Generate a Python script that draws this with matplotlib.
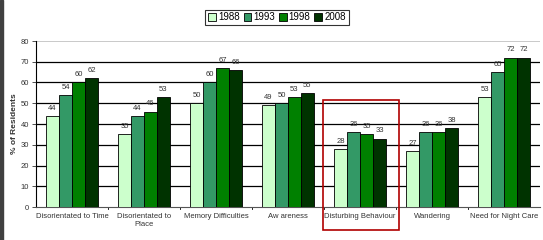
import numpy as np
from matplotlib import pyplot as plt
from matplotlib.patches import Rectangle

categories = ["Disorientated to Time", "Disorientated to\nPlace", "Memory Difficulties",
              "Aw areness", "Disturbing Behaviour", "Wandering", "Need for Night Care"]
years = ["1988", "1993", "1998", "2008"]
v1988 = [44, 35, 50, 49, 28, 27, 53]
v1993 = [54, 44, 60, 50, 36, 36, 65]
v1998 = [60, 46, 67, 53, 35, 36, 72]
v2008 = [62, 53, 66, 55, 33, 38, 72]
colors = ["#ccffcc", "#339966", "#008000", "#003300"]

plt.rcParams["font.family"] = ["Liberation Sans", "DejaVu Sans"]

fig = plt.figure(figsize=(5.43, 2.4), dpi=100)
ax = fig.add_axes([36 / 543, 1 - 207 / 240, 504 / 543, 166 / 240])

x = np.arange(len(categories))
w = 0.18
for i, (vals, col) in enumerate(zip([v1988, v1993, v1998, v2008], colors)):
    pos = x + (i - 1.5) * w
    ax.bar(pos, vals, w, color=col, edgecolor="black", linewidth=0.6,
           label=years[i], zorder=3)
    for p, v in zip(pos, vals):
        ax.text(p, v + 2, str(v), ha="center", va="bottom", fontsize=5.5, color="#333333")

ax.set_xlim(-0.5, len(categories) - 0.5)
ax.set_ylim(0, 80)
ax.set_yticks(range(0, 81, 10))
for y in range(10, 80, 10):
    ax.axhline(y, color="black", linewidth=0.9, zorder=1)
ax.axhline(80, color="#c0c0c0", linewidth=1.2, zorder=1)

ax.set_xticks(x)
ax.set_xticklabels(categories, fontsize=5.5, color="#333333")
ax.tick_params(axis="x", length=0, pad=4)
for b in np.arange(0.5, len(categories) - 0.5):
    ax.plot([b, b], [0, -1], color="black", linewidth=0.6, clip_on=False)
ax.tick_params(axis="y", labelsize=5.5, length=3, width=0.6, colors="#333333", pad=2)

for s in ["top", "right"]:
    ax.spines[s].set_visible(False)
ax.spines["left"].set_linewidth(0.8)
ax.spines["bottom"].set_linewidth(0.8)
ax.spines["bottom"].set_color("#555555")

ax.set_ylabel("% of Residents", fontsize=6, fontweight="bold", color="#333333", labelpad=2)

leg = fig.legend(loc="center", bbox_to_anchor=(277 / 543, 1 - 17.5 / 240), ncol=4,
                 fontsize=7, frameon=True, fancybox=False, edgecolor="black",
                 handlelength=0.8, handleheight=0.8, handletextpad=0.2,
                 columnspacing=0.4, borderpad=0.3, borderaxespad=0)
leg.get_frame().set_linewidth(0.8)

# red highlight box
fig.patches.append(Rectangle((323 / 543, 1 - 230 / 240), 76 / 543, 130 / 240,
                             transform=fig.transFigure, fill=False,
                             edgecolor="#b00000", linewidth=1.2))
# dark left border
fig.patches.append(Rectangle((0, 0), 3 / 543, 1, transform=fig.transFigure,
                             color="#404040"))

fig.savefig("out.png", dpi=100)
